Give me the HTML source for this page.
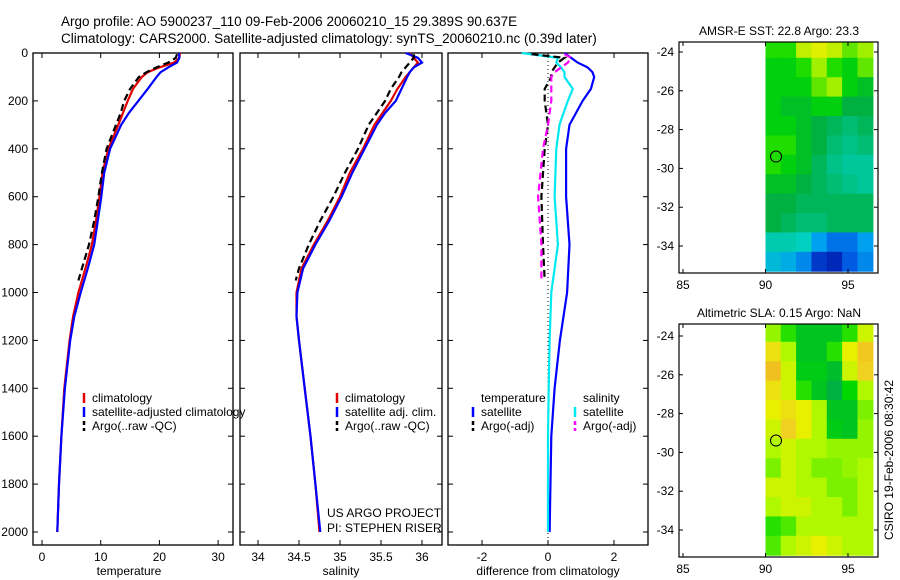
<!DOCTYPE html>
<html><head><meta charset="utf-8"><style>
body{margin:0;background:#fff;}
svg{display:block;font-family:"Liberation Sans",sans-serif;}
</style></head><body>
<svg id="fig" width="900" height="580">
<g font-size="13.5">
<text x="61" y="26">Argo profile: AO 5900237_110 09-Feb-2006 20060210_15 29.389S 90.637E</text>
<text x="61" y="43">Climatology: CARS2000. Satellite-adjusted climatology: synTS_20060210.nc (0.39d later)</text>
</g>
</svg>
<script>
// ---------- data ----------
const depths=[0,20,40,60,80,100,150,200,250,300,400,500,600,700,800,900,1000,1100,1200,1400,1600,1800,2000];
const climT=[23.5,23.4,22.5,20,18,17,15.5,14.6,13.8,13.0,11.3,10.3,9.8,9.2,8.5,7.4,6.2,5.3,4.7,3.8,3.3,2.9,2.6];
const satT=[23.3,23.4,23.0,21.5,20.2,19.5,18,16.4,14.8,13.5,11.6,10.6,10.1,9.5,8.9,7.8,6.6,5.5,4.8,3.9,3.3,2.9,2.6];
const climS=[35.85,35.9,35.95,35.9,35.85,35.8,35.7,35.62,35.52,35.42,35.28,35.12,35.0,34.85,34.68,34.53,34.47,34.47,34.5,34.57,34.64,34.7,34.75];
const satS=[35.8,35.95,36.0,35.9,35.85,35.82,35.75,35.68,35.55,35.45,35.3,35.15,35.02,34.87,34.7,34.55,34.48,34.47,34.5,34.57,34.64,34.7,34.76];
const argoDepths=[5,20,40,60,80,100,150,200,250,300,400,500,600,700,800,900,950];
const argoT=[23.0,22.8,21.5,19.5,17.8,16.5,15,14,13.4,12.6,11,10.2,9.6,8.9,8.0,6.8,6.2];
const argoS=[35.9,35.9,35.85,35.8,35.75,35.72,35.62,35.55,35.45,35.35,35.22,35.06,34.92,34.76,34.62,34.5,34.46];
const diffDepths=[0,20,40,60,80,100,150,200,300,400,600,800,1000,1200,1400,1600,2000];
const diffSatT=[0.5,0.7,0.9,1.2,1.35,1.4,1.3,1.05,0.65,0.55,0.55,0.65,0.58,0.36,0.2,0.1,0.05];
const diffSatS=[-0.8,0.3,0.25,0.4,0.5,0.5,0.75,0.6,0.35,0.25,0.2,0.3,0.1,0.05,0.02,0.0,0.0];
const diffArgoT=[-0.5,0.5,0.3,0.2,0.1,0.1,-0.1,-0.1,0,-0.1,-0.2,-0.15,-0.1];
const diffArgoS=[0.5,0.7,0.6,0.4,0.2,0.1,0.1,0.1,0,-0.15,-0.3,-0.2,-0.2];
const diffArgoDepths=[5,20,40,60,80,100,150,200,300,400,600,800,950];
const tTicks=[0,10,20,30], sTicks=[34,34.5,35,35.5,36], dTicks=[-2,0,2];
const depthTicks=[0,200,400,600,800,1000,1200,1400,1600,1800,2000];
const mapLons=[90.46,91.39,92.32,93.25,94.18,95.11,96.04];
const mapLats=[-23.8,-24.8,-25.8,-26.8,-27.8,-28.8,-29.8,-30.8,-31.8,-32.8,-33.8,-34.8];
const sst=[
[22.6,22.6,23.2,23.4,23.2,22.8,23.0],[22.4,22.4,22.6,23.0,22.6,22.4,22.8],[22.4,22.4,22.4,22.8,23.0,22.4,22.2],
[22.4,22.2,22.2,22.4,22.4,22.0,22.0],[22.4,22.4,22.2,22.0,21.8,21.6,21.8],[22.6,22.6,22.2,22.0,21.6,21.4,21.6],
[22.6,22.4,22.2,21.8,21.4,21.2,21.2],[22.2,22.2,22.0,21.8,21.6,21.4,21.2],[22.0,22.0,21.8,21.8,21.8,21.8,21.8],
[22.0,21.8,21.6,21.6,21.8,21.8,21.8],[21.0,21.0,20.8,20.0,19.6,19.6,20.0],[20.4,20.2,19.8,19.0,18.8,19.4,19.8]];
const sla=[
[0.05,0.0,-0.05,-0.05,-0.05,0.0,0.08],[0.12,0.06,-0.05,-0.05,0.0,0.1,0.15],[0.16,0.08,-0.04,-0.04,-0.06,0.08,0.14],
[0.12,0.08,0.0,-0.05,-0.08,-0.02,0.06],[0.1,0.12,0.1,0.06,-0.05,-0.05,0.04],[0.08,0.14,0.1,0.06,-0.04,-0.05,0.05],
[0.06,0.08,0.06,0.06,0.05,0.05,0.05],[0.04,0.08,0.06,0.04,0.04,0.05,0.06],[0.08,0.08,0.06,0.06,0.04,0.04,0.06],
[0.06,0.08,0.08,0.06,0.06,0.04,0.06],[0.0,0.02,0.06,0.06,0.06,0.06,0.06],[0.02,0.06,0.08,0.1,0.08,0.06,0.06]];
const argoLon=90.637, argoLat=-29.389;
const latTicks=[-24,-26,-28,-30,-32,-34], lonTicks=[85,90,95];

// ---------- helpers ----------
const svg=document.getElementById('fig');
const NS='http://www.w3.org/2000/svg';
function mk(tag,attrs,parent){const e=document.createElementNS(NS,tag);for(const k in attrs)e.setAttribute(k,attrs[k]);(parent||svg).appendChild(e);return e;}
const yD=d=>53+d*0.2395;
const PT={x0:33,x1:233,f:v=>42+v*5.87};
const PS={x0:240,x1:442,f:v=>258+(v-34)*82};
const PD={x0:448,x1:648,f:v=>548+v*33};
const Y0=53,Y1=545;

function panel(p,ticks,name,fmt,showDepth){
  const g=mk('g',{});
  
  
  mk('rect',{x:p.x0,y:Y0,width:p.x1-p.x0,height:Y1-Y0,fill:'none',stroke:'#000','stroke-width':1.3},g);
  ticks.forEach(t=>{const x=p.f(t);
    mk('line',{x1:x,x2:x,y1:Y1,y2:Y1-5,stroke:'#000'},g);
    mk('line',{x1:x,x2:x,y1:Y0,y2:Y0+5,stroke:'#000'},g);
    const tx=mk('text',{x:x,y:Y1+16,'font-size':12,'text-anchor':'middle'},g);tx.textContent=fmt(t);
    
    
  });
  depthTicks.forEach(d=>{const y=yD(d);
    mk('line',{x1:p.x0,x2:p.x0+5,y1:y,y2:y,stroke:'#000'},g);
    mk('line',{x1:p.x1,x2:p.x1-5,y1:y,y2:y,stroke:'#000'},g);
    if(showDepth){const tx=mk('text',{x:p.x0-5,y:y+4,'font-size':12,'text-anchor':'end'},g);tx.textContent=d;
      
      }
  });
}
function line(xs,ds,f,color,dash,name,w){
  const pts=xs.map((v,i)=>f(v).toFixed(1)+','+yD(ds[i]).toFixed(1)).join(' ');
  const e=mk('polyline',{points:pts,fill:'none',stroke:color,'stroke-width':w||2.2,'stroke-dasharray':dash||'none'});
  
  
}
function label(x,y,s,name,anchor,size){const t=mk('text',{x:x,y:y,'font-size':size||12,'text-anchor':anchor||'start'});t.textContent=s;
  
  return t;}
function legend(x,y,color,dash,txt,name){
  const l=mk('line',{x1:x,x2:x,y1:y-9,y2:y+1,stroke:color,'stroke-width':2.5,'stroke-dasharray':dash||'none'});
  
  
  label(x+8,y,txt,name);
}

// ---------- panels ----------
panel(PT,tTicks,'temperature',v=>String(v),true);
panel(PS,sTicks,'salinity',v=>String(v),false);
panel(PD,dTicks,'difference',v=>String(v),false);

line(climT,depths,PT.f,'#e00000',null,'temp-climatology-line');
line(satT,depths,PT.f,'#0000ff',null,'temp-satellite-line');
line(argoT,argoDepths,PT.f,'#000','7,4','temp-argo-line');
line(climS,depths,PS.f,'#e00000',null,'sal-climatology-line');
line(satS,depths,PS.f,'#0000ff',null,'sal-satellite-line');
line(argoS,argoDepths,PS.f,'#000','7,4','sal-argo-line');
const z=mk('line',{x1:PD.f(0),x2:PD.f(0),y1:Y0,y2:Y1,stroke:'#000','stroke-dasharray':'1,3'});


line(diffSatT,diffDepths,PD.f,'#0000ff',null,'diff-temp-satellite-line');
line(diffSatS,diffDepths,PD.f,'#00e8f0',null,'diff-sal-satellite-line');
line(diffArgoT,diffArgoDepths,PD.f,'#000','7,4','diff-temp-argo-line');
line(diffArgoS,diffArgoDepths,PD.f,'#ff00ff','7,4','diff-sal-argo-line');

legend(84,402,'#e00000',null,'climatology','legend-climatology');
legend(84,416,'#0000ff',null,'satellite-adjusted climatology','legend-satellite');
legend(84,430,'#000','4,3','Argo(..raw -QC)','legend-argo');
legend(337,402,'#e00000',null,'climatology','legend2-climatology');
legend(337,416,'#0000ff',null,'satellite adj. clim.','legend2-satellite');
legend(337,430,'#000','4,3','Argo(..raw -QC)','legend2-argo');
label(481,402,'temperature','legend3-temperature-header');
label(583,402,'salinity','legend3-salinity-header');
legend(473,416,'#0000ff',null,'satellite','legend3-temp-satellite');
legend(473,430,'#000','4,3','Argo(-adj)','legend3-temp-argo');
legend(575,416,'#00e8f0',null,'satellite','legend3-sal-satellite');
legend(575,430,'#ff00ff','4,3','Argo(-adj)','legend3-sal-argo');
label(327,517,'US ARGO PROJECT','project-label');
label(327,532,'PI: STEPHEN RISER','pi-label');
label(129,575,'temperature','x-axis-title-temperature','middle');
label(341,575,'salinity','x-axis-title-salinity','middle');
label(548,575,'difference from climatology','x-axis-title-difference','middle');

// ---------- maps ----------
const rgb=a=>'rgb('+a.map(Math.round).join(',')+')';
function interp(stops,v){
  if(v<=stops[0][0])return rgb(stops[0][1]);
  for(let i=1;i<stops.length;i++){if(v<=stops[i][0]){const a=stops[i-1],b=stops[i],t=(v-a[0])/(b[0]-a[0]);
    return rgb([0,1,2].map(k=>a[1][k]+(b[1][k]-a[1][k])*t));}}
  return rgb(stops[stops.length-1][1]);
}
const sstStops=[[18.5,[0,16,160]],[19.3,[0,80,224]],[20.0,[0,160,240]],[20.8,[0,208,192]],[21.5,[0,192,128]],[22.0,[0,176,64]],[22.5,[0,216,0]],[23.0,[160,240,0]],[23.5,[240,240,0]]];
const slaStops=[[-0.08,[0,176,64]],[-0.02,[0,216,0]],[0.03,[96,238,0]],[0.06,[176,248,0]],[0.1,[232,240,0]],[0.14,[240,208,32]],[0.18,[240,176,32]]];
function map(top,bottom,lat24,lat34,grid,stops,title,name){
  const x0=679,x1=878;
  const fx=lon=>683+(lon-85)*16.5;
  const fy=lat=>lat24+(lat+24)*(lat34-lat24)/-10;
  const g=mk('g',{});
  
  
  const cw=0.93*16.5, ch=(lat34-lat24)/10;
  grid.forEach((row,r)=>row.forEach((v,c)=>{
    const cx=fx(mapLons[c]),cy=fy(mapLats[r]);
    const xL=Math.max(fx(90),cx-cw/2), yT=Math.max(top,cy-ch/2);
    const xR=Math.min(x1-2,cx+cw/2), yB=Math.min(bottom-1,cy+ch/2+0.5);
    const e=mk('rect',{x:xL,y:yT,width:xR-xL+0.6,height:yB-yT,fill:interp(stops,v)},g);
    
    
  }));
  mk('rect',{x:x0,y:top,width:x1-x0,height:bottom-top,fill:'none',stroke:'#000','stroke-width':1.2},g);
  latTicks.forEach(l=>{const y=fy(l);
    mk('line',{x1:x0,x2:x0+4,y1:y,y2:y,stroke:'#000'},g);mk('line',{x1:x1,x2:x1-4,y1:y,y2:y,stroke:'#000'},g);
    const t=mk('text',{x:x0-5,y:y+4,'font-size':12,'text-anchor':'end'},g);t.textContent=l;
    
    });
  lonTicks.forEach(l=>{const x=fx(l);
    mk('line',{x1:x,x2:x,y1:bottom,y2:bottom-4,stroke:'#000'},g);mk('line',{x1:x,x2:x,y1:top,y2:top+4,stroke:'#000'},g);
    const t=mk('text',{x:x,y:bottom+16,'font-size':12,'text-anchor':'middle'},g);t.textContent=l;
    
    });
  const c=mk('circle',{cx:fx(argoLon),cy:fy(argoLat),r:5.5,fill:'none',stroke:'#000','stroke-width':1},g);
  
  
  label(779,top-7,title,name+'-title','middle');
}
map(42,273,52,246,sst,sstStops,'AMSR-E SST: 22.8 Argo: 23.3','sst-map');
map(324,557,336,530,sla,slaStops,'Altimetric SLA: 0.15 Argo: NaN','sla-map');
const v=label(0,0,'CSIRO 19-Feb-2006 08:30:42','timestamp-label','middle');
v.setAttribute('transform','translate(893,460) rotate(-90)');
</script>
</body></html>
